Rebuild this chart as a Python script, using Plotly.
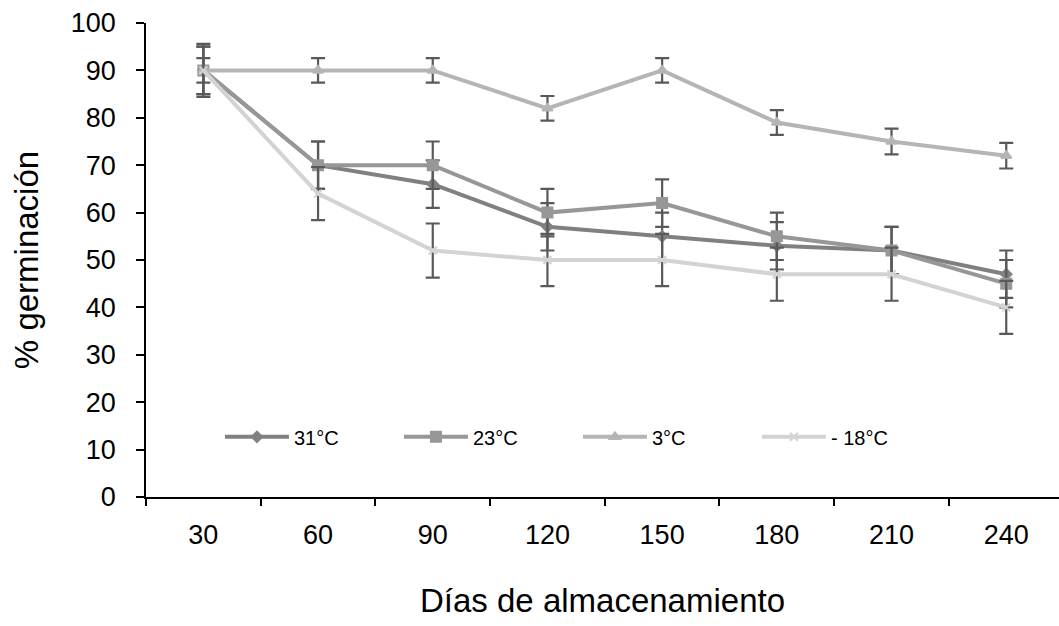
import plotly.graph_objects as go

days = ["30", "60", "90", "120", "150", "180", "210", "240"]
names = ["31°C", "23°C", "3°C", "- 18°C"]
g31 = [90, 70, 66, 57, 55, 53, 52, 47]
g23 = [90, 70, 70, 60, 62, 55, 52, 45]
g3 = [90, 90, 90, 82, 90, 79, 75, 72]
gm18 = [90, 64, 52, 50, 50, 47, 47, 40]
e31 = [5, 5, 5, 5, 5, 5, 5, 5]
e23 = [5, 5, 5, 5, 5, 5, 5, 5]
e3 = [2.6, 2.6, 2.6, 2.6, 2.6, 2.6, 2.7, 2.7]
em18 = [5.6, 5.6, 5.7, 5.5, 5.5, 5.6, 5.6, 5.6]

series = [g31, g23, g3, gm18]
errors = [e31, e23, e3, em18]
colors = ["#808080", "#979797", "#b5b5b5", "#d3d3d3"]
symbols = ["diamond", "square", "triangle-up", "x-thin-open"]
msizes = [8, 10, 9, 8]

fig = go.Figure()
for nm, ys, es, c, s, ms in zip(names, series, errors, colors, symbols, msizes):
    fig.add_trace(go.Scatter(
        x=days, y=ys, name=nm, mode="lines+markers",
        line=dict(color=c, width=4),
        marker=dict(symbol=s, size=ms, color=c, line=dict(color=c, width=2)),
        error_y=dict(type="data", array=es, visible=True, color="#595959",
                     thickness=2.2, width=7),
    ))

fig.update_layout(
    width=1059, height=626,
    margin=dict(l=146, r=0, t=23, b=129),
    plot_bgcolor="white", paper_bgcolor="white",
    font=dict(family="Liberation Sans, Arial, sans-serif", color="#000000", size=20),
    showlegend=True,
    legend=dict(orientation="h", x=0.081, y=0.127, xanchor="left", yanchor="middle",
                bgcolor="rgba(0,0,0,0)", font=dict(size=20), entrywidth=100,
                itemwidth=64, traceorder="normal"),
    xaxis=dict(
        type="category", range=[-0.5, 7.46],
        showline=True, linecolor="#000000", linewidth=1.5,
        ticks="outside", tickson="boundaries", ticklen=7, tickwidth=1.5, tickcolor="#000000",
        showgrid=False, zeroline=False,
        tickfont=dict(size=27), ticklabelstandoff=13,
        title=dict(text="Días de almacenamiento", font=dict(size=33), standoff=40),
    ),
    yaxis=dict(
        range=[0, 100], dtick=10,
        showline=True, linecolor="#000000", linewidth=1.5,
        ticks="outside", ticklen=8, tickwidth=1.5, tickcolor="#000000",
        showgrid=False, zeroline=False,
        tickfont=dict(size=27), ticklabelstandoff=15,
        title=dict(text="% germinación", font=dict(size=33), standoff=22),
    ),
)

fig.write_html(
    "out.html",
    config={"displayModeBar": False},
    post_script="document.body.style.margin='0';document.body.style.overflow='hidden';",
)
